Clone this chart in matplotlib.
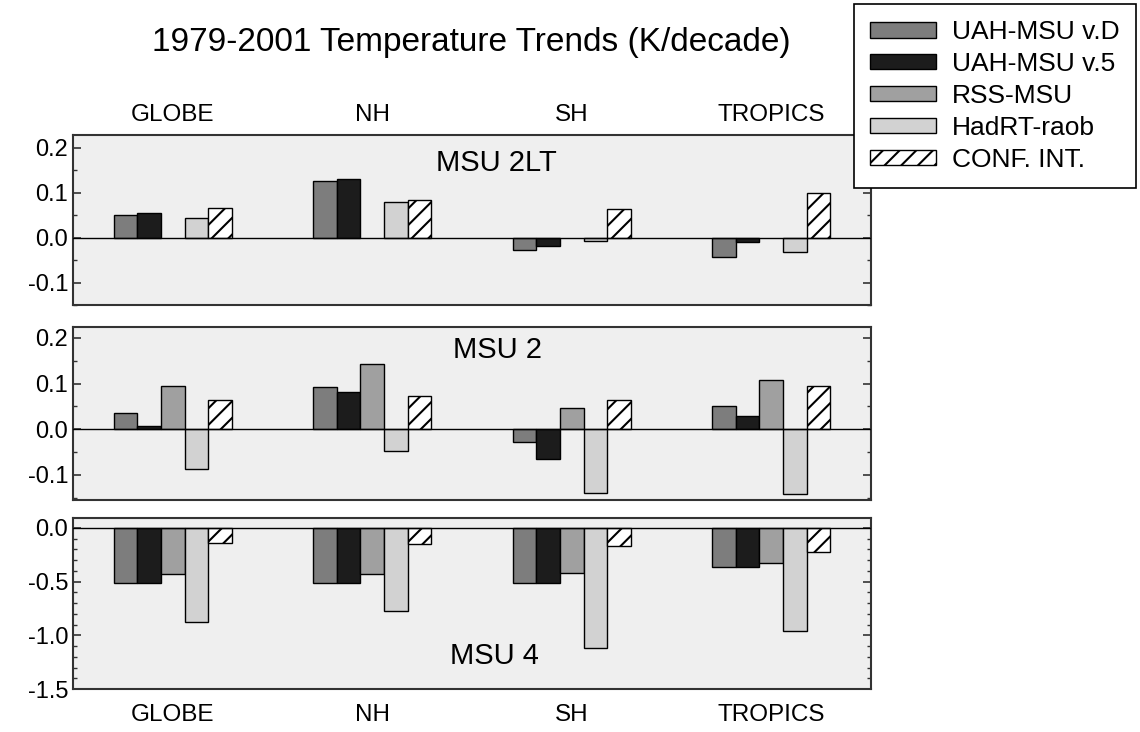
import numpy as np
import matplotlib
matplotlib.use('Agg')
import matplotlib.pyplot as plt
from matplotlib.ticker import MultipleLocator, FormatStrFormatter

plt.rcParams['font.family'] = ['Liberation Sans', 'DejaVu Sans']
plt.rcParams['axes.unicode_minus'] = False
plt.rcParams['hatch.linewidth'] = 1.5

# Data (K/decade)
regions = ['GLOBE', 'NH', 'SH', 'TROPICS']
series = ['UAH-MSU v.D', 'UAH-MSU v.5', 'RSS-MSU', 'HadRT-raob', 'CONF. INT.']

msu2lt_uah_d = [0.050, 0.125, -0.027, -0.044]
msu2lt_uah_5 = [0.055, 0.130, -0.018, -0.011]
msu2lt_rss = [np.nan, np.nan, np.nan, np.nan]
msu2lt_hadrt = [0.043, 0.080, -0.007, -0.032]
msu2lt_ci = [0.066, 0.084, 0.064, 0.099]

msu2_uah_d = [0.035, 0.093, -0.028, 0.051]
msu2_uah_5 = [0.008, 0.082, -0.066, 0.029]
msu2_rss = [0.094, 0.142, 0.047, 0.107]
msu2_hadrt = [-0.086, -0.048, -0.139, -0.142]
msu2_ci = [0.064, 0.073, 0.063, 0.094]

msu4_uah_d = [-0.51, -0.51, -0.51, -0.36]
msu4_uah_5 = [-0.51, -0.51, -0.51, -0.36]
msu4_rss = [-0.43, -0.43, -0.42, -0.33]
msu4_hadrt = [-0.88, -0.77, -1.12, -0.96]
msu4_ci = [-0.14, -0.15, -0.165, -0.22]

colors = ['#7d7d7d', '#1c1c1c', '#a0a0a0', '#d2d2d2', 'white']
hatches = [None, None, None, None, '//']

panels = [
    ('MSU 2LT', [msu2lt_uah_d, msu2lt_uah_5, msu2lt_rss, msu2lt_hadrt, msu2lt_ci],
     (-0.15, 0.228), 0.1, 0.05, (1.62, 0.165)),
    ('MSU 2', [msu2_uah_d, msu2_uah_5, msu2_rss, msu2_hadrt, msu2_ci],
     (-0.155, 0.224), 0.1, 0.05, (1.63, 0.173)),
    ('MSU 4', [msu4_uah_d, msu4_uah_5, msu4_rss, msu4_hadrt, msu4_ci],
     (-1.5, 0.093), 0.5, 0.1, (1.61, -1.19)),
]

fig = plt.figure(figsize=(11.4, 7.32), dpi=100)
fig.patch.set_facecolor('white')

# axes boxes in pixels: (top, bottom)
boxes = [(135, 305), (327, 500), (518, 689)]
left_px, right_px = 73, 871
W, H = 1140.0, 732.0

x = np.arange(len(regions))
width = 0.118
axes = []
for (name, data, ylim, major, minor, lab), (top, bot) in zip(panels, boxes):
    ax = fig.add_axes([left_px / W, 1 - bot / H, (right_px - left_px) / W, (bot - top) / H])
    ax.set_facecolor('#efefef')
    for i, vals in enumerate(data):
        ax.bar(x + (i - 2) * width, vals, width, color=colors[i], edgecolor='black',
               linewidth=1.0, hatch=hatches[i], label=series[i], zorder=3)
    ax.axhline(0, color='black', linewidth=1.0, zorder=4)
    ax.set_xlim(-0.5, 3.5)
    ax.set_ylim(*ylim)
    ax.yaxis.set_major_locator(MultipleLocator(major))
    ax.yaxis.set_minor_locator(MultipleLocator(minor))
    ax.yaxis.set_major_formatter(FormatStrFormatter('%.1f'))
    ax.set_xticks([])
    ax.tick_params(axis='y', which='both', direction='in', right=True, labelsize=17,
                   color='#333333')
    ax.tick_params(axis='y', which='major', length=6, width=1.2)
    ax.tick_params(axis='y', which='minor', length=3, width=1.0)
    for sp in ax.spines.values():
        sp.set_linewidth(1.5)
        sp.set_color('#333333')
    ax.text(lab[0], lab[1], name, fontsize=21, ha='center', va='center', zorder=5)
    axes.append(ax)

# group labels above and below
for i, r in enumerate(regions):
    xf = (left_px + (i + 0.5) * (right_px - left_px) / 4) / W
    fig.text(xf, 1 - 115 / H, r, fontsize=17.5, ha='center', va='center')
    fig.text(xf, 1 - 715 / H, r, fontsize=17.5, ha='center', va='center')

fig.text(471 / W, 1 - 42 / H, '1979-2001 Temperature Trends (K/decade)',
         fontsize=24, ha='center', va='center')

handles, labels = axes[1].get_legend_handles_labels()
leg = fig.legend(handles, labels, loc='upper left', bbox_to_anchor=(854 / W, 1 - 4 / H),
                 fontsize=19, frameon=True, fancybox=False, borderaxespad=0,
                 handlelength=2.5, handleheight=0.5, labelspacing=0.3,
                 handletextpad=0.6, borderpad=0.62)
leg.get_frame().set_edgecolor('black')
leg.get_frame().set_linewidth(1.2)
leg.get_frame().set_alpha(1)

fig.savefig('out.png', dpi=100, facecolor='white')
